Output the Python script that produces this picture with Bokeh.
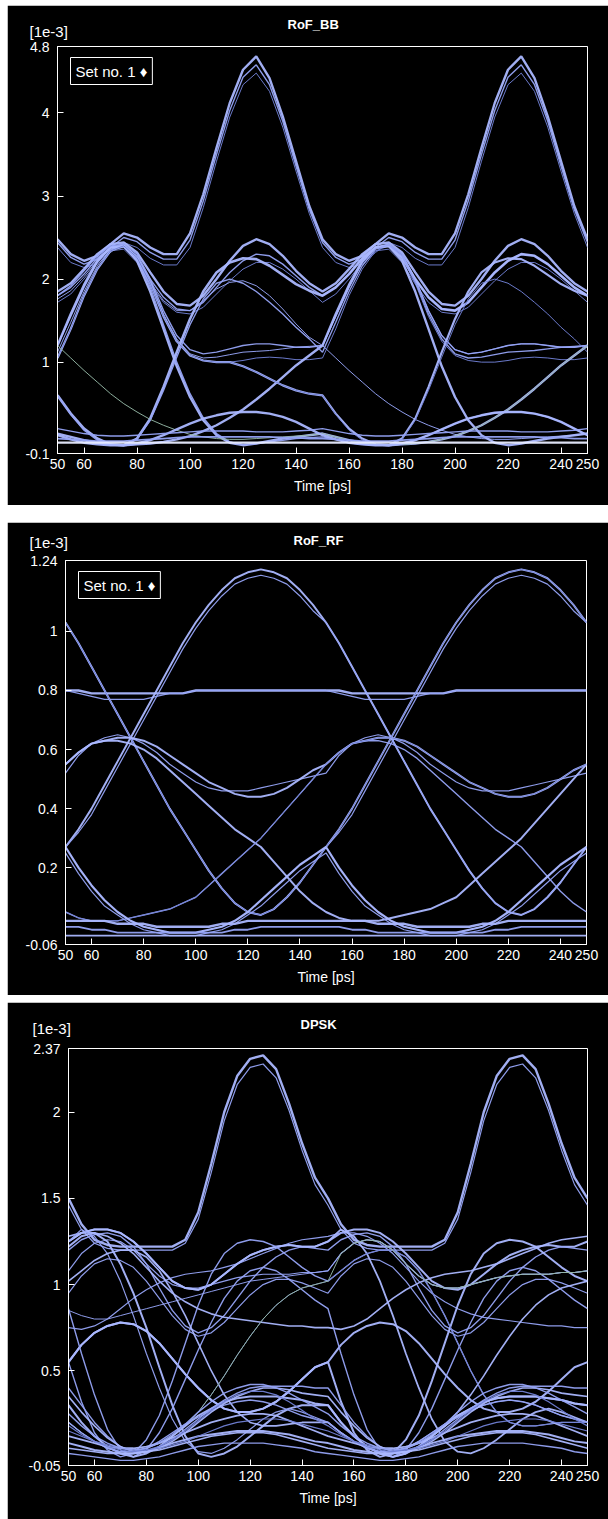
from bokeh.plotting import figure
from bokeh.models import Label, Range1d, FixedTicker, CustomJSTickFormatter, Title
from bokeh.embed import file_html
from bokeh.resources import INLINE

# ---------------- shared axis data ----------------
time_ps = [50, 55, 60, 65, 70, 75, 80, 85, 90, 95, 100,
           105, 110, 115, 120, 125, 130, 135, 140, 145, 150]
period_ps = 100
x_ticks = [50, 60, 80, 100, 120, 140, 160, 180, 200, 220, 240, 250]

# ---------------- RoF_BB (values in 1e-3) ----------------
bb_y_ticks = [-0.1, 1, 2, 3, 4, 4.8]
bb_tall_a = [2.48, 2.30, 2.22, 2.28, 2.42, 2.55, 2.50, 2.38, 2.30, 2.30, 2.55, 3.02, 3.58, 4.12, 4.52, 4.68, 4.42, 3.96, 3.42, 2.88, 2.48]
bb_tall_b = [2.44, 2.26, 2.18, 2.24, 2.38, 2.50, 2.45, 2.32, 2.24, 2.24, 2.47, 2.94, 3.50, 4.03, 4.43, 4.58, 4.34, 3.90, 3.36, 2.84, 2.44]
bb_tall_c = [2.38, 2.20, 2.14, 2.18, 2.32, 2.44, 2.38, 2.25, 2.17, 2.17, 2.38, 2.86, 3.42, 3.95, 4.34, 4.48, 4.26, 3.83, 3.30, 2.79, 2.38]
bb_mid_a = [1.85, 1.95, 2.12, 2.30, 2.42, 2.44, 2.32, 2.08, 1.85, 1.70, 1.68, 1.80, 2.00, 2.22, 2.40, 2.48, 2.42, 2.28, 2.10, 1.95, 1.85]
bb_mid_b = [1.80, 1.90, 2.06, 2.25, 2.38, 2.40, 2.26, 2.00, 1.78, 1.64, 1.62, 1.72, 1.90, 2.08, 2.22, 2.30, 2.28, 2.18, 2.04, 1.90, 1.80]
bb_mid_c = [1.72, 1.82, 2.00, 2.20, 2.34, 2.36, 2.20, 1.94, 1.72, 1.60, 1.58, 1.66, 1.82, 1.98, 2.12, 2.20, 2.20, 2.12, 2.00, 1.86, 1.72]
bb_mid_d = [1.76, 1.86, 2.03, 2.22, 2.36, 2.38, 2.22, 1.96, 1.74, 1.62, 1.62, 1.74, 1.88, 1.96, 1.98, 1.92, 1.80, 1.64, 1.46, 1.30, 1.20]
bb_plat_a = [1.20, 1.55, 1.90, 2.20, 2.38, 2.42, 2.30, 2.00, 1.62, 1.32, 1.15, 1.10, 1.12, 1.16, 1.20, 1.22, 1.22, 1.20, 1.18, 1.18, 1.20]
bb_plat_b = [1.05, 1.40, 1.80, 2.12, 2.34, 2.40, 2.26, 1.95, 1.55, 1.25, 1.08, 1.02, 1.00, 1.00, 1.02, 1.05, 1.06, 1.05, 1.03, 1.03, 1.05]
bb_plat_c = [1.12, 1.48, 1.85, 2.16, 2.36, 2.41, 2.28, 1.97, 1.58, 1.28, 1.10, 1.05, 1.06, 1.09, 1.12, 1.13, 1.14, 1.16, 1.18, 1.19, 1.20]
bb_plat_d = [1.05, 1.40, 1.80, 2.12, 2.34, 2.40, 2.26, 1.95, 1.55, 1.25, 1.08, 1.02, 1.00, 1.00, 0.95, 0.88, 0.80, 0.72, 0.66, 0.62, 0.60]
bb_fall_a = [1.20, 1.58, 1.93, 2.22, 2.38, 2.40, 2.22, 1.85, 1.40, 0.95, 0.58, 0.30, 0.12, 0.03, 0.00, 0.02, 0.05, 0.08, 0.10, 0.12, 0.14]
bb_fall_b = [1.80, 1.92, 2.10, 2.28, 2.40, 2.42, 2.25, 1.90, 1.45, 1.00, 0.62, 0.33, 0.14, 0.04, 0.01, 0.02, 0.04, 0.06, 0.08, 0.09, 0.10]
bb_rise_a = [0.60, 0.38, 0.20, 0.08, 0.01, 0.00, 0.08, 0.32, 0.70, 1.12, 1.52, 1.85, 2.08, 2.20, 2.25, 2.24, 2.16, 2.05, 1.94, 1.86, 1.80]
bb_rise_b = [0.60, 0.37, 0.18, 0.06, 0.00, 0.00, 0.07, 0.30, 0.66, 1.06, 1.45, 1.76, 1.95, 2.00, 1.95, 1.85, 1.72, 1.58, 1.42, 1.28, 1.12]
bb_edge_up = [0.14, 0.10, 0.06, 0.03, 0.01, 0.00, 0.01, 0.02, 0.04, 0.07, 0.11, 0.17, 0.24, 0.33, 0.43, 0.55, 0.68, 0.82, 0.96, 1.08, 1.20]
bb_edge_dn = [1.20, 1.05, 0.90, 0.76, 0.62, 0.50, 0.40, 0.31, 0.24, 0.18, 0.13, 0.10, 0.08, 0.07, 0.07, 0.08, 0.09, 0.10, 0.11, 0.12, 0.14]
bb_low_hump = [0.12, 0.07, 0.03, 0.01, 0.00, 0.00, 0.02, 0.06, 0.12, 0.19, 0.26, 0.32, 0.36, 0.39, 0.40, 0.40, 0.38, 0.34, 0.28, 0.20, 0.12]
bb_low_a = [0.20, 0.17, 0.14, 0.12, 0.11, 0.11, 0.12, 0.13, 0.14, 0.15, 0.16, 0.17, 0.17, 0.17, 0.17, 0.16, 0.16, 0.16, 0.17, 0.18, 0.20]
bb_low_b = [0.08, 0.07, 0.06, 0.05, 0.05, 0.05, 0.06, 0.07, 0.08, 0.09, 0.10, 0.10, 0.10, 0.10, 0.10, 0.10, 0.10, 0.09, 0.09, 0.08, 0.08]
bb_base = [0.03, 0.03, 0.03, 0.03, 0.03, 0.03, 0.03, 0.03, 0.03, 0.03, 0.03, 0.03, 0.03, 0.03, 0.03, 0.03, 0.03, 0.03, 0.03, 0.03, 0.03]

# ---------------- RoF_RF ----------------
rf_y_ticks = [-0.06, 0.2, 0.4, 0.6, 0.8, 1, 1.24]
rf_flat_a = [0.80, 0.80, 0.79, 0.79, 0.79, 0.79, 0.79, 0.79, 0.79, 0.79, 0.80, 0.80, 0.80, 0.80, 0.80, 0.80, 0.80, 0.80, 0.80, 0.80, 0.80]
rf_flat_b = [0.80, 0.79, 0.78, 0.77, 0.77, 0.77, 0.77, 0.78, 0.79, 0.79, 0.80, 0.80, 0.80, 0.80, 0.80, 0.80, 0.80, 0.80, 0.80, 0.80, 0.80]
rf_bell_up = [0.27, 0.33, 0.40, 0.48, 0.56, 0.64, 0.72, 0.80, 0.88, 0.96, 1.03, 1.09, 1.14, 1.18, 1.20, 1.21, 1.20, 1.18, 1.14, 1.09, 1.03]
rf_bell_up2 = [0.27, 0.32, 0.38, 0.46, 0.54, 0.62, 0.70, 0.78, 0.86, 0.94, 1.01, 1.07, 1.12, 1.16, 1.18, 1.19, 1.18, 1.16, 1.12, 1.07, 1.03]
rf_bell_dn = [1.03, 0.96, 0.88, 0.80, 0.72, 0.64, 0.56, 0.48, 0.40, 0.33, 0.26, 0.19, 0.13, 0.08, 0.05, 0.04, 0.06, 0.10, 0.15, 0.21, 0.27]
rf_hump_b = [0.52, 0.58, 0.62, 0.64, 0.65, 0.64, 0.62, 0.59, 0.55, 0.52, 0.49, 0.47, 0.46, 0.46, 0.46, 0.47, 0.48, 0.49, 0.50, 0.51, 0.52]
rf_hump_c = [0.55, 0.59, 0.62, 0.63, 0.64, 0.64, 0.63, 0.61, 0.58, 0.55, 0.52, 0.49, 0.47, 0.45, 0.44, 0.44, 0.45, 0.47, 0.50, 0.53, 0.55]
rf_hump_fall = [0.55, 0.59, 0.62, 0.63, 0.63, 0.62, 0.60, 0.57, 0.53, 0.49, 0.45, 0.41, 0.37, 0.33, 0.30, 0.27, 0.22, 0.17, 0.12, 0.08, 0.05]
rf_cross_up = [0.05, 0.03, 0.02, 0.02, 0.02, 0.03, 0.04, 0.05, 0.06, 0.08, 0.10, 0.14, 0.18, 0.22, 0.26, 0.30, 0.35, 0.40, 0.45, 0.50, 0.55]
rf_u_a = [0.27, 0.20, 0.14, 0.09, 0.05, 0.02, 0.00, -0.01, -0.02, -0.02, -0.02, -0.01, 0.00, 0.02, 0.05, 0.09, 0.13, 0.17, 0.21, 0.24, 0.27]
rf_u_b = [0.25, 0.18, 0.12, 0.07, 0.04, 0.01, -0.01, -0.02, -0.03, -0.03, -0.03, -0.02, -0.01, 0.01, 0.04, 0.07, 0.11, 0.15, 0.19, 0.22, 0.25]
rf_low_a = [0.02, 0.02, 0.02, 0.02, 0.01, 0.01, 0.01, 0.00, 0.00, 0.00, 0.00, 0.00, 0.01, 0.01, 0.02, 0.02, 0.02, 0.02, 0.02, 0.02, 0.02]
rf_low_b = [0.00, 0.00, -0.01, -0.01, -0.02, -0.02, -0.02, -0.02, -0.02, -0.02, -0.02, -0.02, -0.02, -0.01, -0.01, 0.00, 0.00, 0.00, 0.00, 0.00, 0.00]
rf_low_c = [-0.03, -0.03, -0.03, -0.03, -0.03, -0.03, -0.03, -0.03, -0.03, -0.03, -0.03, -0.03, -0.03, -0.03, -0.03, -0.03, -0.03, -0.03, -0.03, -0.03, -0.03]

# ---------------- DPSK ----------------
dp_y_ticks = [-0.05, 0.5, 1, 1.5, 2, 2.37]
dp_tall_a = [1.50, 1.35, 1.26, 1.23, 1.22, 1.22, 1.22, 1.22, 1.22, 1.26, 1.42, 1.70, 2.00, 2.21, 2.31, 2.33, 2.25, 2.05, 1.82, 1.62, 1.50]
dp_tall_b = [1.46, 1.32, 1.24, 1.21, 1.20, 1.20, 1.20, 1.20, 1.20, 1.24, 1.38, 1.65, 1.95, 2.16, 2.26, 2.28, 2.20, 2.01, 1.78, 1.58, 1.46]
dp_hi_a = [1.25, 1.30, 1.32, 1.32, 1.30, 1.25, 1.18, 1.10, 1.02, 0.98, 0.97, 1.00, 1.06, 1.12, 1.17, 1.20, 1.22, 1.23, 1.22, 1.22, 1.25]
dp_hi_b = [1.20, 1.26, 1.29, 1.30, 1.28, 1.22, 1.12, 0.98, 0.85, 0.76, 0.72, 0.75, 0.82, 0.92, 1.02, 1.10, 1.16, 1.20, 1.22, 1.21, 1.20]
dp_hi_c = [1.08, 1.18, 1.24, 1.26, 1.25, 1.20, 1.12, 1.05, 1.00, 0.98, 0.98, 1.00, 1.02, 1.04, 1.05, 1.06, 1.06, 1.06, 1.07, 1.07, 1.08]
dp_hi_d = [1.02, 1.08, 1.14, 1.18, 1.20, 1.20, 1.16, 1.08, 0.96, 0.82, 0.66, 0.50, 0.36, 0.26, 0.20, 0.18, 0.18, 0.19, 0.20, 0.20, 0.20]
dp_hi_e = [1.28, 1.30, 1.30, 1.28, 1.24, 1.18, 1.10, 1.02, 0.95, 0.90, 0.86, 0.83, 0.81, 0.80, 0.79, 0.78, 0.77, 0.76, 0.76, 0.75, 0.75]
dp_mid_a = [0.55, 0.65, 0.72, 0.76, 0.78, 0.77, 0.73, 0.66, 0.57, 0.48, 0.40, 0.33, 0.28, 0.26, 0.26, 0.28, 0.32, 0.38, 0.45, 0.52, 0.55]
dp_mid_b = [0.85, 0.82, 0.80, 0.80, 0.82, 0.84, 0.86, 0.88, 0.90, 0.92, 0.94, 0.96, 0.98, 1.00, 1.02, 1.03, 1.04, 1.05, 1.06, 1.07, 1.08]
dp_mid_c = [0.95, 1.05, 1.12, 1.15, 1.14, 1.10, 1.02, 0.92, 0.82, 0.74, 0.70, 0.72, 0.78, 0.86, 0.94, 1.00, 1.03, 1.03, 1.01, 0.98, 0.95]
dp_mid_d = [0.75, 0.74, 0.76, 0.80, 0.86, 0.92, 0.97, 1.01, 1.04, 1.06, 1.07, 1.08, 1.10, 1.12, 1.15, 1.18, 1.21, 1.24, 1.26, 1.27, 1.28]
dp_fall_a = [1.22, 1.28, 1.30, 1.25, 1.12, 0.95, 0.75, 0.52, 0.30, 0.12, 0.02, 0.00, 0.02, 0.06, 0.12, 0.18, 0.24, 0.28, 0.30, 0.30, 0.30]
dp_fall_b = [1.25, 1.32, 1.28, 1.18, 1.02, 0.82, 0.60, 0.40, 0.22, 0.09, 0.03, 0.02, 0.05, 0.10, 0.16, 0.22, 0.26, 0.28, 0.26, 0.23, 0.20]
dp_rise_a = [0.55, 0.32, 0.14, 0.04, 0.00, 0.02, 0.10, 0.24, 0.44, 0.66, 0.88, 1.06, 1.18, 1.24, 1.26, 1.25, 1.22, 1.16, 1.10, 1.05, 1.02]
dp_rise_b = [0.86, 0.60, 0.36, 0.16, 0.04, 0.00, 0.04, 0.14, 0.28, 0.45, 0.62, 0.78, 0.92, 1.02, 1.08, 1.10, 1.08, 1.03, 0.97, 0.91, 0.86]
dp_x_up = [0.20, 0.14, 0.09, 0.05, 0.03, 0.03, 0.05, 0.08, 0.12, 0.18, 0.26, 0.36, 0.47, 0.59, 0.70, 0.80, 0.88, 0.94, 0.98, 1.00, 1.02]
dp_bot_a = [0.30, 0.20, 0.12, 0.06, 0.02, 0.00, 0.02, 0.06, 0.12, 0.18, 0.24, 0.28, 0.32, 0.34, 0.35, 0.35, 0.35, 0.34, 0.33, 0.31, 0.30]
dp_bot_b = [0.20, 0.14, 0.09, 0.05, 0.03, 0.03, 0.05, 0.09, 0.14, 0.19, 0.23, 0.27, 0.30, 0.32, 0.33, 0.32, 0.30, 0.27, 0.24, 0.22, 0.20]
dp_bot_c = [0.12, 0.10, 0.08, 0.06, 0.05, 0.05, 0.06, 0.08, 0.11, 0.14, 0.17, 0.20, 0.22, 0.24, 0.25, 0.25, 0.24, 0.21, 0.18, 0.15, 0.12]
dp_bot_d = [0.40, 0.30, 0.20, 0.12, 0.06, 0.03, 0.03, 0.06, 0.10, 0.16, 0.22, 0.28, 0.33, 0.37, 0.40, 0.41, 0.41, 0.41, 0.41, 0.40, 0.40]
dp_bot_e = [0.08, 0.06, 0.04, 0.03, 0.02, 0.02, 0.03, 0.05, 0.08, 0.10, 0.12, 0.13, 0.14, 0.15, 0.15, 0.15, 0.14, 0.13, 0.11, 0.09, 0.08]
dp_bot_f = [0.02, 0.01, 0.00, -0.01, -0.02, -0.02, -0.01, 0.00, 0.02, 0.04, 0.06, 0.07, 0.08, 0.08, 0.08, 0.08, 0.07, 0.06, 0.05, 0.03, 0.02]
dp_bot_g = [0.35, 0.26, 0.18, 0.11, 0.06, 0.03, 0.03, 0.05, 0.09, 0.14, 0.20, 0.26, 0.31, 0.35, 0.38, 0.40, 0.40, 0.39, 0.37, 0.36, 0.35]
dp_bot_h = [0.15, 0.12, 0.09, 0.07, 0.05, 0.04, 0.04, 0.05, 0.07, 0.09, 0.12, 0.15, 0.18, 0.20, 0.21, 0.22, 0.22, 0.21, 0.19, 0.17, 0.15]
dp_bot_i = [0.25, 0.18, 0.12, 0.08, 0.05, 0.04, 0.05, 0.08, 0.13, 0.19, 0.26, 0.32, 0.37, 0.40, 0.42, 0.42, 0.40, 0.37, 0.33, 0.29, 0.25]
dp_bot_j = [0.05, 0.04, 0.03, 0.02, 0.02, 0.02, 0.03, 0.04, 0.06, 0.08, 0.10, 0.12, 0.13, 0.14, 0.14, 0.14, 0.13, 0.11, 0.09, 0.07, 0.05]
dp_bot_k = [0.18, 0.13, 0.09, 0.06, 0.04, 0.03, 0.04, 0.06, 0.10, 0.15, 0.21, 0.27, 0.32, 0.36, 0.38, 0.38, 0.36, 0.32, 0.27, 0.22, 0.18]

BRIGHT, MID, DIM, GREEN, WHITE = "#aab7ff", "#95a3f6", "#7080d4", "#94b6a4", "#e8ecff"

bb_traces = [
    (bb_tall_a, bb_tall_a, BRIGHT, 2.4), (bb_tall_b, bb_tall_b, MID, 1.4), (bb_tall_c, bb_tall_c, DIM, 1.0),
    (bb_mid_a, bb_mid_a, BRIGHT, 2.4), (bb_mid_b, bb_mid_b, MID, 1.4), (bb_mid_c, bb_mid_c, DIM, 1.0),
    (bb_mid_d, bb_plat_a, MID, 1.0),
    (bb_plat_a, bb_plat_a, MID, 1.4), (bb_plat_b, bb_plat_b, DIM, 1.0), (bb_plat_c, bb_edge_dn, MID, 1.0),
    (bb_fall_a, bb_edge_up, BRIGHT, 2.4), (bb_edge_up, bb_fall_a, BRIGHT, 2.4), (bb_fall_b, bb_low_hump, MID, 1.4),
    (bb_rise_a, bb_mid_b, BRIGHT, 2.6), (bb_plat_d, bb_rise_a, BRIGHT, 2.2), (bb_rise_b, bb_plat_c, MID, 1.4),
    (bb_plat_d, bb_rise_b, DIM, 1.0),
    (bb_edge_dn, bb_edge_up, GREEN, 1.0),
    (bb_low_hump, bb_low_hump, BRIGHT, 2.4), (bb_low_a, bb_low_a, MID, 1.4), (bb_low_b, bb_low_b, MID, 1.8),
    (bb_base, bb_base, WHITE, 2.2),
]
rf_traces = [
    (rf_flat_a, rf_flat_a, BRIGHT, 2.4), (rf_flat_b, rf_flat_b, MID, 1.2),
    (rf_bell_up, rf_bell_dn, BRIGHT, 2.0), (rf_bell_up2, rf_bell_dn, MID, 1.2),
    (rf_bell_dn, rf_bell_up, BRIGHT, 2.0), (rf_bell_dn, rf_bell_up2, MID, 1.2),
    (rf_bell_dn, rf_u_a, DIM, 1.0), (rf_u_a, rf_bell_up, DIM, 1.0),
    (rf_hump_b, rf_hump_b, MID, 1.2), (rf_hump_c, rf_hump_c, BRIGHT, 2.0),
    (rf_hump_fall, rf_cross_up, BRIGHT, 2.0), (rf_cross_up, rf_hump_fall, MID, 1.4), (rf_cross_up, rf_hump_c, DIM, 1.0),
    (rf_u_a, rf_u_a, BRIGHT, 2.2), (rf_u_b, rf_u_b, MID, 1.2),
    (rf_low_a, rf_low_a, BRIGHT, 2.4), (rf_low_b, rf_low_b, MID, 1.8), (rf_low_c, rf_low_c, BRIGHT, 1.8),
]
dp_traces = [
    (dp_tall_a, dp_tall_a, BRIGHT, 2.4), (dp_tall_b, dp_tall_b, MID, 1.2),
    (dp_hi_a, dp_hi_a, BRIGHT, 2.0), (dp_hi_b, dp_hi_b, MID, 1.4), (dp_hi_c, dp_hi_c, MID, 1.2),
    (dp_hi_e, dp_mid_d, BRIGHT, 1.6), (dp_mid_d, dp_hi_e, MID, 1.2),
    (dp_mid_a, dp_mid_a, BRIGHT, 2.0), (dp_mid_b, dp_hi_c, MID, 1.0), (dp_mid_c, dp_mid_c, MID, 1.2),
    (dp_hi_a, dp_fall_b, BRIGHT, 1.8), (dp_fall_a, dp_bot_a, BRIGHT, 2.0), (dp_fall_b, dp_bot_b, MID, 1.2),
    (dp_mid_a, dp_rise_a, BRIGHT, 2.0), (dp_rise_a, dp_hi_d, MID, 1.4), (dp_rise_b, dp_rise_b, MID, 1.4),
    (dp_hi_d, dp_x_up, BRIGHT, 1.6), (dp_x_up, dp_hi_d, DIM, 1.0), (dp_x_up, dp_hi_c, GREEN, 1.0),
    (dp_bot_a, dp_bot_a, BRIGHT, 2.0), (dp_bot_b, dp_bot_b, MID, 1.4), (dp_bot_c, dp_bot_c, BRIGHT, 1.8),
    (dp_bot_d, dp_bot_d, MID, 1.4), (dp_bot_e, dp_bot_e, BRIGHT, 2.0), (dp_bot_f, dp_bot_f, MID, 1.4),
    (dp_bot_g, dp_bot_g, BRIGHT, 1.6), (dp_bot_h, dp_bot_h, DIM, 1.2), (dp_bot_i, dp_bot_i, MID, 1.4),
    (dp_bot_j, dp_bot_j, BRIGHT, 1.6), (dp_bot_k, dp_bot_k, DIM, 1.2),
]

FONT = "Liberation Sans"
tick_fmt = "return tick.toString();"


def make_panel(title, y_ticks, traces, height, borders, margin, legend, head):
    left, right, top, bottom = borders
    unit_offset, unit_standoff, title_offset, title_standoff = head
    p = figure(width=601, height=height, output_backend="svg", toolbar_location=None,
               x_range=Range1d(50, 250), y_range=Range1d(y_ticks[0], y_ticks[-1]),
               background_fill_color="black", border_fill_color="black",
               outline_line_color="white", outline_line_width=1,
               min_border_left=left, min_border_right=right,
               min_border_top=top, min_border_bottom=bottom, margin=margin)
    p.grid.visible = False
    for ax in (p.xaxis, p.yaxis):
        ax.axis_line_color = "white"
        ax.major_tick_line_color = "white"
        ax.major_tick_in = 6
        ax.major_tick_out = 0
        ax.minor_tick_line_color = None
        ax.major_label_text_color = "white"
        ax.major_label_text_font = FONT
        ax.major_label_text_font_size = "14px"
        ax.formatter = CustomJSTickFormatter(code=tick_fmt)
    p.xaxis.ticker = FixedTicker(ticks=x_ticks)
    p.yaxis.ticker = FixedTicker(ticks=y_ticks)
    p.xaxis.major_label_standoff = 5
    p.yaxis.major_label_standoff = 8
    p.xaxis.axis_label = "Time [ps]"
    p.xaxis.axis_label_text_color = "white"
    p.xaxis.axis_label_text_font = FONT
    p.xaxis.axis_label_text_font_size = "14px"
    p.xaxis.axis_label_text_font_style = "normal"
    p.xaxis.axis_label_standoff = 6

    # inner header: unit marker, left of the frame
    p.add_layout(Title(text="[1e-3]", align="left", offset=unit_offset, standoff=unit_standoff,
                       vertical_align="bottom", text_color="white", text_font=FONT,
                       text_font_size="15px", text_font_style="normal"), "above")
    # outer header: bold title pulled down onto the same row
    p.title.text = title
    p.title.align = "left"
    p.title.offset = title_offset
    p.title.vertical_align = "bottom"
    p.title.standoff = title_standoff
    p.title.text_color = "white"
    p.title.text_font = FONT
    p.title.text_font_size = "13px"
    p.title.text_font_style = "bold"

    xs_full = time_ps + [t + period_ps for t in time_ps[1:]]
    for first, second, color, w in traces:
        ys = first + second[1:]
        p.line(xs_full, ys, line_color=color, line_width=w, line_alpha=0.95)

    if legend:
        p.add_layout(Label(x=50, y=y_ticks[-1], x_offset=13, y_offset=-11, text="Set no. 1 \u2666",
                           text_align="left", text_baseline="top", text_color="white",
                           text_font=FONT, text_font_size="15px",
                           border_line_color="white", border_line_width=1,
                           background_fill_color="black", padding=5))
    return p


p1 = make_panel("RoF_BB", bb_y_ticks, bb_traces, 500, (50, 21, 41, 52), (5, 0, 0, 7), True, (-28, 14, 230, -36))
p2 = make_panel("RoF_RF", rf_y_ticks, rf_traces, 473, (58, 22, 38, 51), (17, 0, 0, 7), True, (-36, 19, 228, -50))
p3 = make_panel("DPSK", dp_y_ticks, dp_traces, 517, (61, 21, 46, 54), (7, 0, 0, 7), False, (-36, 23, 232, -50))

open("out.html", "w").write(file_html([p1, p2, p3], INLINE))
